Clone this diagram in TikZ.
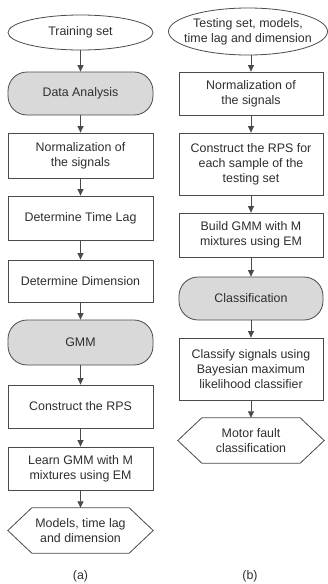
\documentclass[tikz,border=0pt]{standalone}
\usepackage{fontspec}
\setmainfont{Liberation Sans}
\usetikzlibrary{arrows.meta,shapes.geometric}
\definecolor{edge}{HTML}{4A4A4A}
\definecolor{ink}{HTML}{2E2E2E}
\definecolor{shade}{HTML}{D9D9D9}
% hexagonal outline around a (hidden) rectangular node
\newcommand\hexframe[1]{%
  \draw[outline] (#1.west) -- ([xshift=24pt]#1.north west)
    -- ([xshift=-24pt]#1.north east) -- (#1.east)
    -- ([xshift=-24pt]#1.south east) -- ([xshift=24pt]#1.south west) -- cycle;}
\begin{document}
\begin{tikzpicture}[x=1pt,y=-1pt,
  every node/.style={font=\fontsize{12.4}{15}\selectfont, text=ink, align=center, inner sep=0pt},
  outline/.style={draw=edge, line width=0.8pt},
  lbox/.style={outline, fill=white, minimum width=145pt, minimum height=43pt},
  rbox/.style={outline, fill=white, minimum width=144pt, minimum height=43pt},
  phase/.style={outline, fill=shade, rounded corners=19pt},
  terminal/.style={outline, ellipse, inner sep=0pt},
  hexnode/.style={minimum width=145pt, minimum height=45pt},
  arr/.style={draw=edge, line width=0.7pt, -{Triangle[length=6.5pt,width=6pt]}}]
\useasboundingbox (0,0) rectangle (328,584);

% (a) training
\node[terminal, minimum width=145pt, minimum height=35pt] (L1) at (80.5,32.5) {Training set};
\node[lbox, phase] (L2) at (80.5,93.5) {Data Analysis};
\node[lbox, minimum height=45pt] (L3) at (80.5,155.5) {Normalization of\\the signals};
\node[lbox, minimum height=44pt] (L4) at (80.5,218) {Determine Time Lag};
\node[lbox, minimum height=42pt] (L5) at (80.5,281) {Determine Dimension};
\node[lbox, phase, minimum height=45pt] (L6) at (80.5,342.5) {GMM};
\node[lbox] (L7) at (80.5,406.5) {Construct the RPS};
\node[lbox] (L8) at (80.5,468.5) {Learn GMM with M\\mixtures using EM};
\node[hexnode] (L9) at (80.5,530.5) {Models, time lag\\and dimension};
\hexframe{L9}
\node (capa) at (80.5,576) {(a)};

\foreach \a/\b in {L1/L2,L2/L3,L3/L4,L4/L5,L5/L6,L6/L7,L7/L8,L8/L9}
  \draw[arr] (\a) -- (\b);

% (b) testing
\node[terminal, minimum width=159pt, minimum height=47pt,
  label={center:{Testing set, models,\\time lag and dimension}}] (R1) at (248,31.5) {};
\node[rbox] (R2) at (251,93.5) {Normalization of\\the signals};
\node[rbox, minimum height=62pt] (R3) at (251,164) {Construct the RPS for\\each sample of the\\testing set};
\node[rbox, minimum height=44pt] (R4) at (251,235) {Build GMM with M\\mixtures using EM};
\node[rbox, phase] (R5) at (251,298.5) {Classification};
\node[rbox, minimum height=62pt] (R6) at (251,369) {Classify signals using\\Bayesian maximum\\likelihood classifier};
\node[hexnode, minimum width=146pt] (R7) at (251,440.5) {Motor fault\\classification};
\hexframe{R7}
\node (capb) at (250,576) {(b)};

\draw[arr] (R1.south -| R2.north) -- (R2.north);
\foreach \a/\b in {R2/R3,R3/R4,R4/R5,R5/R6,R6/R7}
  \draw[arr] (\a) -- (\b);
\end{tikzpicture}
\end{document}
